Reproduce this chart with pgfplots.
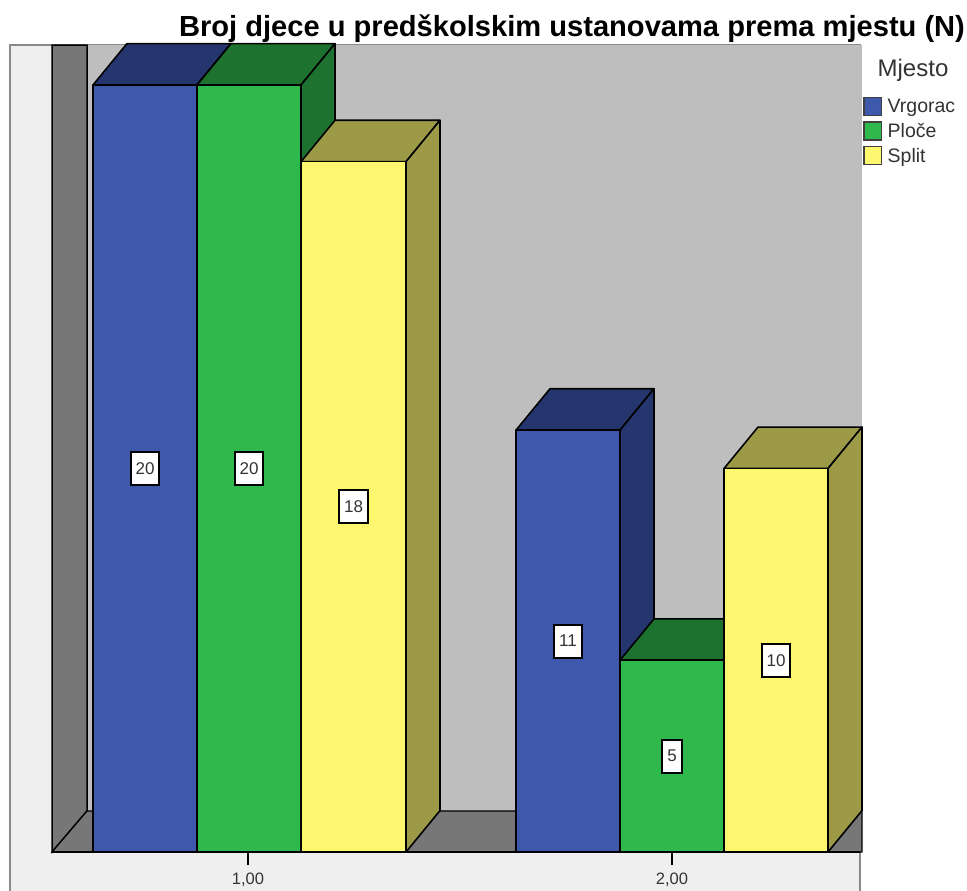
\documentclass[border=0pt]{standalone}
\usepackage{pgfplots}
\usepackage{fontspec}
\setmainfont{Liberation Sans}
\pgfplotsset{compat=1.18}
\definecolor{bf}{HTML}{3E58AC}\definecolor{bt}{HTML}{25366F}
\definecolor{gf}{HTML}{2FB84C}\definecolor{gt}{HTML}{1C722E}
\definecolor{yf}{HTML}{FDF76F}\definecolor{yt}{HTML}{9C9A47}
\definecolor{back}{HTML}{BEBEBE}\definecolor{wall}{HTML}{777777}
\definecolor{outer}{HTML}{EFEFEF}\definecolor{frame}{HTML}{8A8A8A}
\definecolor{txt}{HTML}{333333}
% #1 left, #2 right, #3 value, #4 front, #5 depth-face colour
\newcommand{\threedbar}[5]{%
  \addplot[forget plot,fill=#5,draw=black,line width=1.6pt,line join=round] coordinates {({#1},{#3}) ({#1+0.0802},{#3+1.08}) ({#2+0.0802},{#3+1.08}) ({#2},{#3})} -- cycle;
  \addplot[forget plot,fill=#5,draw=black,line width=1.6pt,line join=round] coordinates {({#2},0) ({#2+0.0802},1.08) ({#2+0.0802},{#3+1.08}) ({#2},{#3})} -- cycle;
  \addplot[forget plot,fill=#4,draw=black,line width=1.6pt,line join=round] coordinates {(#1,0) (#1,#3) (#2,#3) (#2,0)} -- cycle;
}
\begin{document}
\begin{tikzpicture}
\begin{axis}[
  scale only axis, width=967pt, height=891pt,
  xmin=0.41509, xmax=2.69575, ymin=-1.01695, ymax=22.2164,
  axis x line=middle, axis y line=none,
  axis line style={draw=none},
  xtick={1,2}, xticklabels={{1,00},{2,00}},
  x tick label style={font=\fontsize{16.5}{18}\selectfont, text=txt, yshift=-4pt},
  tick align=outside, major tick length=13pt,
  tick style={black,line width=1.3pt},
  ytick=\empty,
  axis on top=true,
  title={\textbf{Broj djece u predškolskim ustanovama prema mjestu (N)}},
  title style={at={(axis cs:1.7642,21.51)},anchor=center,yshift=-8pt,font=\fontsize{29.1}{32}\selectfont,inner sep=0pt},
  legend style={at={(axis cs:2.4504,19.70)},anchor=north west,draw=none,fill=none,
    font=\fontsize{19.5}{20}\selectfont, text=txt, inner sep=0pt, row sep=5pt, nodes={inner sep=1.5pt}},
  legend cell align=left,
  legend image code/.code={\draw[#1,line width=1.6pt,draw=black!75] (0pt,-9pt) rectangle (17.5pt,9pt); \path (22pt,0pt);},
]
% page and frame
\addplot[forget plot,fill=white,draw=none] coordinates {(0.41509,-1.01695) (0.41509,22.2164) (2.69575,22.2164) (2.69575,-1.01695)} -- cycle;
\addplot[forget plot,fill=outer,draw=frame,line width=1.6pt] coordinates {(0.43868,-1.2) (0.43868,21.05) (2.4434,21.05) (2.4434,-1.2)} -- cycle;
% walls and floor
\addplot[forget plot,fill=back,draw=none] coordinates {(0.62028,1.069) (0.62028,21.04) (2.44811,21.04) (2.44811,1.069)} -- cycle;
\addplot[forget plot,fill=wall,draw=black,line width=1.5pt] coordinates {(0.53774,0) (0.53774,21.04) (0.62028,21.04) (0.62028,1.069)} -- cycle;
\addplot[forget plot,fill=wall,draw=black,line width=1.3pt] coordinates {(0.53774,0) (0.62028,1.069) (2.44811,1.069) (2.44811,0)} -- cycle;
% bars: value drawn from the axis
\threedbar{0.63443}{0.87972}{20}{bf}{bt}
\threedbar{0.87972}{1.125}{20}{gf}{gt}
\threedbar{1.125}{1.37264}{18}{yf}{yt}
\threedbar{1.63208}{1.87736}{11}{bf}{bt}
\threedbar{1.87736}{2.12264}{5}{gf}{gt}
\threedbar{2.12264}{2.36792}{10}{yf}{yt}
% baseline
\addplot[forget plot,black,line width=1.6pt] coordinates {(0.53774,0) (2.4434,0)};
% value labels
\addplot[forget plot,only marks,mark=none,point meta=explicit symbolic,
  nodes near coords={\textcolor{txt}{\pgfplotspointmeta}},
  every node near coord/.style={anchor=center,fill=white,draw=black,line width=2pt,
    font=\fontsize{17}{18}\selectfont,inner xsep=4.8pt,inner ysep=0pt,minimum height=33pt}]
  coordinates {(0.75708,10)[20] (1.00236,10)[20] (1.24882,9)[18] (1.75472,5.5)[11] (2,2.5)[5] (2.24528,5)[10]};
\addlegendimage{fill=bf}\addlegendentry{Vrgorac}
\addlegendimage{fill=gf}\addlegendentry{Ploče}
\addlegendimage{fill=yf}\addlegendentry{Split}
\node[anchor=center,font=\fontsize{24}{26}\selectfont,text=txt] at (axis cs:2.5684,20.39) {Mjesto};
\end{axis}
\end{tikzpicture}
\end{document}
